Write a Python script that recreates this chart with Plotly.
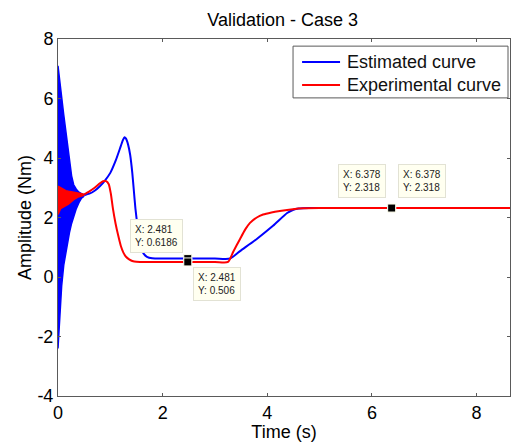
import plotly.graph_objects as go

# ---- data ----
# estimated curve: dense initial oscillation (envelope) + smooth part
blue_osc_t = [0.0, 0.03, 0.07, 0.11, 0.15, 0.19, 0.22, 0.26, 0.30, 0.35, 0.40, 0.45, 0.50]
blue_osc_hi = [7.1, 6.55, 6.05, 5.45, 4.9, 4.4, 4.0, 3.4, 3.1, 2.95, 2.85, 2.8, 2.75]
blue_osc_lo = [-2.4, -1.3, -0.3, 0.4, 0.85, 1.2, 1.5, 1.8, 2.05, 2.3, 2.5, 2.65, 2.72]

blue_t = [0.5, 0.6, 0.7, 0.8, 0.9, 1.0, 1.1, 1.2, 1.24, 1.27, 1.30, 1.34, 1.38, 1.42,
          1.45, 1.48, 1.52, 1.56, 1.60, 1.64, 1.70, 1.8, 2.0, 2.5, 3.0, 3.29, 3.48,
          3.8, 4.11, 4.38, 4.5, 4.6, 4.8, 5.0, 6.0, 7.0, 8.0, 8.65]
blue_y = [2.75, 2.8, 2.9, 3.05, 3.25, 3.5, 3.9, 4.4, 4.6, 4.7, 4.65, 4.45, 4.1, 3.5,
          2.9, 2.3, 1.7, 1.2, 0.92, 0.78, 0.68, 0.63, 0.62, 0.62, 0.62, 0.62, 0.87,
          1.28, 1.72, 2.15, 2.26, 2.3, 2.318, 2.318, 2.318, 2.318, 2.318, 2.318]

# experimental curve
red_osc_t = [0.0, 0.05, 0.10, 0.15, 0.20, 0.30, 0.40, 0.50]
red_osc_hi = [3.05, 3.0, 2.95, 2.9, 2.88, 2.85, 2.8, 2.78]
red_osc_lo = [2.1, 2.3, 2.35, 2.4, 2.45, 2.6, 2.7, 2.75]

red_t = [0.5, 0.6, 0.7, 0.8, 0.86, 0.92, 0.97, 1.01, 1.05, 1.1, 1.15, 1.2, 1.25, 1.3,
         1.36, 1.42, 1.5, 2.0, 3.0, 3.25, 3.35, 3.48, 3.58, 3.67, 3.8, 3.92, 4.08,
         4.24, 4.49, 4.7, 5.0, 6.0, 7.0, 8.0, 8.65]
red_y = [2.78, 2.88, 3.0, 3.15, 3.22, 3.22, 3.12, 2.8, 2.3, 1.8, 1.4, 1.05, 0.82, 0.68,
         0.59, 0.54, 0.51, 0.506, 0.506, 0.506, 0.85, 1.28, 1.6, 1.82, 2.0, 2.1, 2.17,
         2.22, 2.28, 2.31, 2.318, 2.318, 2.318, 2.318, 2.318]

# data tips
tip_x = [2.481, 2.481, 6.378, 6.378]
tip_y = [0.6186, 0.506, 2.318, 2.318]

series_names = ["Estimated curve", "Experimental curve"]
xticks = [0, 2, 4, 6, 8]
yticks = [-4, -2, 0, 2, 4, 6, 8]
yticklabels = ["-4", "-2", "0", "2", "4", "6", "8"]

BLUE = "#0000ff"
RED = "#ff0000"
FONT = "Liberation Sans, Arial, Helvetica, sans-serif"

fig = go.Figure()

# blue oscillation envelope (filled)
fig.add_trace(go.Scatter(x=blue_osc_t, y=blue_osc_lo, mode="lines",
                         line=dict(color=BLUE, width=1.5), showlegend=False, hoverinfo="skip"))
fig.add_trace(go.Scatter(x=blue_osc_t, y=blue_osc_hi, mode="lines", fill="tonexty",
                         fillcolor=BLUE, line=dict(color=BLUE, width=1.5),
                         showlegend=False, hoverinfo="skip"))
fig.add_trace(go.Scatter(x=blue_t, y=blue_y, mode="lines", name=series_names[0],
                         showlegend=False,
                         line=dict(color=BLUE, width=2, shape="spline", smoothing=0.6)))

# red oscillation envelope (filled)
fig.add_trace(go.Scatter(x=red_osc_t, y=red_osc_lo, mode="lines",
                         line=dict(color=RED, width=1.5), showlegend=False, hoverinfo="skip"))
fig.add_trace(go.Scatter(x=red_osc_t, y=red_osc_hi, mode="lines", fill="tonexty",
                         fillcolor=RED, line=dict(color=RED, width=1.5),
                         showlegend=False, hoverinfo="skip"))
fig.add_trace(go.Scatter(x=red_t, y=red_y, mode="lines", name=series_names[1],
                         showlegend=False,
                         line=dict(color=RED, width=2, shape="spline", smoothing=0.6)))

# data tip markers
fig.add_trace(go.Scatter(x=tip_x, y=tip_y, mode="markers", showlegend=False,
                         marker=dict(symbol="square", size=8, color="black",
                                     line=dict(color="#fffff0", width=1))))

# data tip boxes
tip_style = [
    dict(xanchor="right", yanchor="bottom", xshift=-5, yshift=6),
    dict(xanchor="left", yanchor="top", xshift=5, yshift=-5),
    dict(xanchor="right", yanchor="bottom", xshift=-6, yshift=10),
    dict(xanchor="left", yanchor="bottom", xshift=6, yshift=10),
]
for tx, ty, st in zip(tip_x, tip_y, tip_style):
    fig.add_annotation(x=tx, y=ty, xref="x", yref="y", showarrow=False,
                       text=f"X: {tx:g}<br>Y: {ty:g}", align="left",
                       font=dict(family=FONT, size=10, color="#222222"),
                       bgcolor="#fffff0", bordercolor="#e2e2d4", borderwidth=1,
                       borderpad=4, **st)

# MATLAB-style legend box (drawn in axis-domain coordinates)
fig.add_shape(type="rect", xref="x domain", yref="y domain",
              x0=0.52, x1=0.9956, y0=0.835, y1=0.980,
              line=dict(color="#5a5a5a", width=1), fillcolor="white", layer="above")
for name, color, yy in zip(series_names, [BLUE, RED], [0.9356, 0.8711]):
    fig.add_shape(type="line", xref="x domain", yref="y domain",
                  x0=0.540, x1=0.624, y0=yy, y1=yy,
                  line=dict(color=color, width=2), layer="above")
    fig.add_annotation(xref="x domain", yref="y domain", x=0.635, y=yy,
                       xanchor="left", yanchor="middle", showarrow=False,
                       text=name, font=dict(family=FONT, size=18, color="#111111"))

axis_common = dict(showline=True, linecolor="#5a5a5a", linewidth=1, mirror="ticks",
                   ticks="inside", ticklen=3, tickcolor="#5a5a5a", showgrid=False,
                   zeroline=False, automargin=False,
                   tickfont=dict(family=FONT, size=18, color="black"))

fig.update_layout(
    width=514, height=442,
    margin=dict(l=58, r=4, t=39, b=46),
    paper_bgcolor="white", plot_bgcolor="white",
    font=dict(family=FONT, size=18, color="black"),
    title=dict(text="Validation - Case 3", x=0.55, xanchor="center", y=0.955,
               yanchor="middle", font=dict(family=FONT, size=18, color="black")),
    xaxis=dict(range=[0, 8.64], tickvals=xticks,
               title=dict(text="Time (s)", standoff=2,
                          font=dict(family=FONT, size=18)), **axis_common),
    yaxis=dict(range=[-4, 8], tickvals=yticks, ticktext=yticklabels,
               title=dict(text="Amplitude (Nm)", standoff=1,
                          font=dict(family=FONT, size=18)), **axis_common),
    showlegend=False,
)

fig.write_html("out.html", config={"displayModeBar": False},
               post_script="document.body.style.margin='0';")
